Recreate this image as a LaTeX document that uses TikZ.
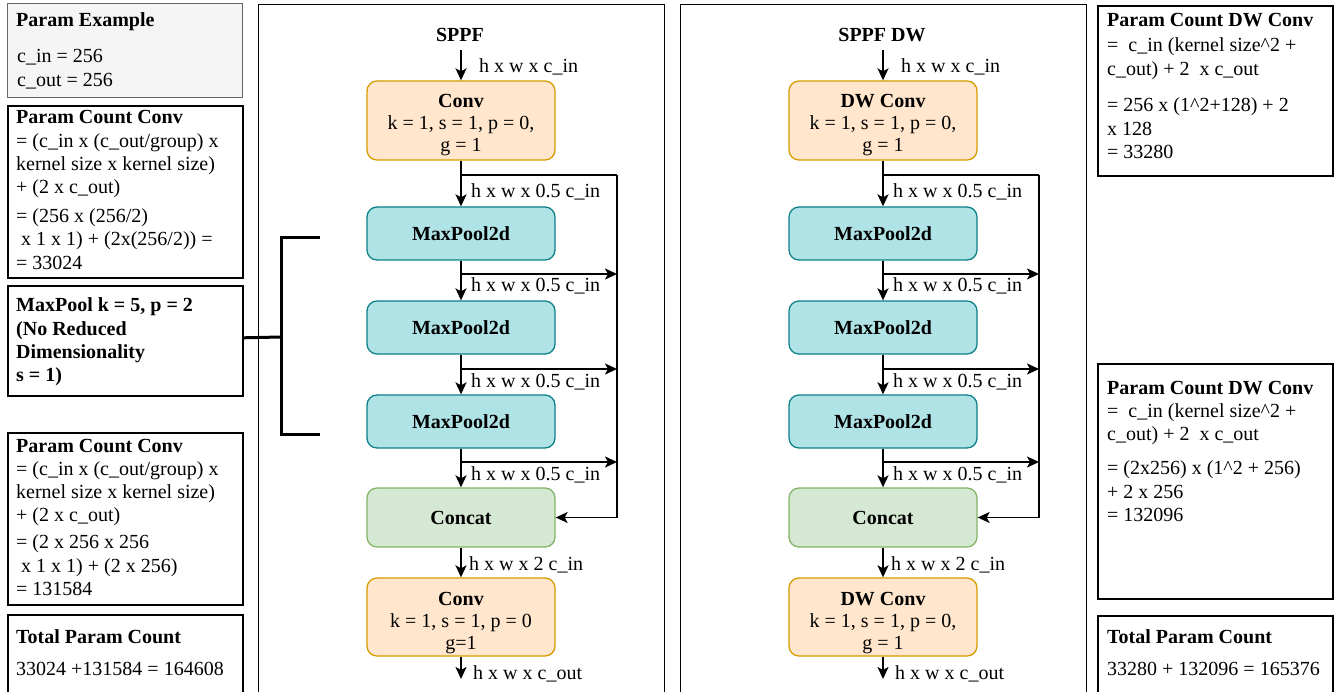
\documentclass[tikz,border=0pt]{standalone}
\usepackage{fontspec}
\setmainfont{Liberation Serif}
\usetikzlibrary{arrows.meta,calc}
\definecolor{convfill}{HTML}{FFE6CC}
\definecolor{convdraw}{HTML}{D79B00}
\definecolor{mpfill}{HTML}{B0E3E6}
\definecolor{mpdraw}{HTML}{0E8088}
\definecolor{ccfill}{HTML}{D5E8D4}
\definecolor{ccdraw}{HTML}{82B366}
\definecolor{exfill}{HTML}{F5F5F5}
\definecolor{exdraw}{HTML}{666666}
\newcommand{\fsz}{\fontsize{20}{23.3}\selectfont}
\newcommand{\boxtext}[1]{\parbox[t]{300pt}{\raggedright\fsz #1}}
\newcommand{\blocktext}[1]{\parbox[t]{200pt}{\centering\fontsize{20}{22}\selectfont #1}}
\tikzset{
  tbox/.style={draw=black, line width=1.6pt, minimum width=235pt, anchor=north west, inner sep=0pt},
  txt/.style={anchor=base west, inner sep=0pt},
  panelframe/.style={draw=black, line width=1.4pt, minimum width=406pt, minimum height=720pt, anchor=north west, inner sep=0pt},
  blk/.style={rounded corners=10pt, line width=1.3pt, minimum width=188pt, inner sep=0pt, font=\fsz\bfseries},
  convblk/.style={blk, fill=convfill, draw=convdraw, minimum height=79pt},
  mpblk/.style={blk, fill=mpfill, draw=mpdraw, minimum height=53pt},
  ccblk/.style={blk, fill=ccfill, draw=ccdraw, minimum height=59pt},
  arr/.style={line width=2pt, -{Stealth[length=12pt,width=11pt,inset=3pt]}},
  skipline/.style={line width=1.5pt},
  lbl/.style={anchor=base west, inner sep=0pt, font=\fsz},
  brk/.style={line width=3pt}
}
\newcommand{\sppfpanel}[3]{%
  \node[panelframe] (frame) at (258,4) {};
  \node[anchor=base, inner sep=0pt, font=\fsz\bfseries] (ttl) at (460,42) {#1};
  \node[convblk] (c1) at (461,120.5) {};
  \node[anchor=base, inner sep=0pt] (c1t) at (461,108) {\blocktext{#2}};
  \node[mpblk] (m1) at (461,233.5) {MaxPool2d};
  \node[mpblk] (m2) at (461,327.5) {MaxPool2d};
  \node[mpblk] (m3) at (461,421.5) {MaxPool2d};
  \node[ccblk] (cc) at (461,517.5) {Concat};
  \node[convblk, minimum height=78pt] (c2) at (461,617) {};
  \node[anchor=base, inner sep=0pt] (c2t) at (461,605) {\blocktext{#3}};
  \coordinate (in) at (461,50);
  \coordinate (out) at (461,679);
  \coordinate (s0) at (461,175);
  \coordinate (r0) at (617,175);
  \coordinate (s1) at (461,274);
  \coordinate (s2) at (461,369);
  \coordinate (s3) at (461,462);
  \draw[arr] (in) -- (c1.north);
  \draw[arr] (c1.south) -- (m1.north);
  \draw[arr] (m1.south) -- (m2.north);
  \draw[arr] (m2.south) -- (m3.north);
  \draw[arr] (m3.south) -- (cc.north);
  \draw[arr] (cc.south) -- (c2.north);
  \draw[arr] (c2.south) -- (out);
  \draw[skipline] (s0) -- (r0);
  \draw[arr, line width=1.7pt] (r0) |- (cc.east);
  \draw[arr] (s1) -- (s1 -| r0);
  \draw[arr] (s2) -- (s2 -| r0);
  \draw[arr] (s3) -- (s3 -| r0);
  \node[lbl] (l0) at (479,73) {h x w x c\_in};
  \node[lbl] (l1) at (471,198) {h x w x 0.5 c\_in};
  \node[lbl] (l2) at (471,292) {h x w x 0.5 c\_in};
  \node[lbl] (l3) at (471,387) {h x w x 0.5 c\_in};
  \node[lbl] (l4) at (471,480) {h x w x 0.5 c\_in};
  \node[lbl] (l5) at (469,570) {h x w x 2 c\_in};
  \node[lbl] (l6) at (473,679) {h x w x c\_out};
}
\begin{document}
\begin{tikzpicture}[x=1pt,y=-1pt]
\fill[white] (0,0) rectangle (1340,692);
\useasboundingbox (0,0) rectangle (1340,692);
% left boxes
\node[tbox, fill=exfill, draw=exdraw, line width=1.4pt, minimum height=94pt] (ex) at (7,3) {};
\node[txt] (ext) at (16,27) {\boxtext{\textbf{Param Example}\\[12.5pt]\hspace*{1pt}c\_in = 256\\\hspace*{1pt}c\_out = 256}};
\node[tbox, minimum height=172pt] (pc1) at (7,105) {};
\node[txt] (pc1t) at (16,124) {\boxtext{\textbf{Param Count Conv}\\= (c\_in x (c\_out/group) x\\kernel size x kernel size)\\+ (2 x c\_out)\\[5.5pt]= (256 x (256/2)\\\hspace*{5pt}x 1 x 1) + (2x(256/2)) =\\= 33024}};
\node[tbox, minimum height=110pt] (mpx) at (7,285) {};
\node[txt] (mpxt) at (16,312) {\boxtext{\bfseries MaxPool k = 5, p = 2\\(No Reduced\\Dimensionality\\s = 1)}};
\node[tbox, minimum height=172pt] (pc2) at (7,432) {};
\node[txt] (pc2t) at (16,452) {\boxtext{\textbf{Param Count Conv}\\= (c\_in x (c\_out/group) x\\kernel size x kernel size)\\+ (2 x c\_out)\\[3.5pt]= (2 x 256 x 256\\\hspace*{5pt}x 1 x 1) + (2 x 256)\\= 131584}};
\node[tbox, minimum height=100pt] (tot1) at (7,614) {};
\node[txt] (tot1t) at (16,643) {\boxtext{\textbf{Total Param Count}\\[8.7pt]33024 +131584 = 164608}};
% bracket
\coordinate (bt) at (320,238);
\coordinate (bb) at (320,434);
\coordinate (bx) at (281,337);
\draw[brk] (bt) -- (bt -| bx) -- (bb -| bx) -- (bb);
\draw[brk] ($(mpx.east)+(0,-3)$) -- (bx);
% panels
\begin{scope}[name prefix=L-]
\sppfpanel{SPPF}{\textbf{Conv}\\k = 1, s = 1, p = 0,\\g = 1}{\textbf{Conv}\\k = 1, s = 1, p = 0\\g=1}
\end{scope}
\begin{scope}[xshift=422pt, name prefix=R-]
\sppfpanel{SPPF DW}{\textbf{DW Conv}\\k = 1, s = 1, p = 0,\\g = 1}{\textbf{DW Conv}\\k = 1, s = 1, p = 0,\\g = 1}
\end{scope}
% right boxes
\node[tbox, minimum height=170pt] (rb1) at (1097,5) {};
\node[txt] (rb1t) at (1107,27) {\boxtext{\textbf{Param Count DW Conv}\\[1.5pt]=\ \ c\_in (kernel size\textasciicircum 2 +\\c\_out) + 2\ \ x c\_out\\[13.5pt]= 256 x (1\textasciicircum 2+128) + 2\\x 128\\= 33280}};
\node[tbox, minimum height=235pt] (rb2) at (1097,363) {};
\node[txt] (rb2t) at (1107,394) {\boxtext{\textbf{Param Count DW Conv}\\=\ \ c\_in (kernel size\textasciicircum 2 +\\c\_out) + 2\ \ x c\_out\\[11pt]= (2x256) x (1\textasciicircum 2 + 256)\\+ 2 x 256\\= 132096}};
\node[tbox, minimum height=100pt] (rb3) at (1097,615) {};
\node[txt] (rb3t) at (1107,643) {\boxtext{\textbf{Total Param Count}\\[8.7pt]33280 + 132096 = 165376}};
\end{tikzpicture}
\end{document}
